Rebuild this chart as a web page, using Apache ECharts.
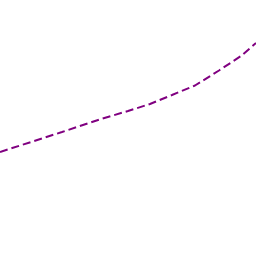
<!DOCTYPE html>
<html>
<head>
<meta charset="utf-8">
<script src="https://cdn.jsdelivr.net/npm/echarts@6/dist/echarts.min.js"></script>
<style>html,body{margin:0;padding:0;background:#fff}#c{width:256px;height:256px}</style>
</head>
<body>
<div id="c"></div>
<script>
var xValues = [0, 62, 101, 128, 150, 172, 195, 219, 241, 256];
var yValues = [104, 124, 137, 145, 152, 161, 170.5, 185.5, 200, 213];
var seriesData = xValues.map(function (x, i) { return [x, yValues[i]]; });
var chart = echarts.init(document.getElementById('c'), null, {renderer: 'canvas'});
chart.setOption({
  animation: false,
  backgroundColor: '#ffffff',
  grid: {left: 0, right: 0, top: 0, bottom: 0},
  xAxis: {type: 'value', min: 0, max: 256, show: false},
  yAxis: {type: 'value', min: 0, max: 256, show: false},
  series: [{
    type: 'line',
    data: seriesData,
    showSymbol: false,
    symbol: 'none',
    lineStyle: {color: '#800080', width: 2, type: 'dashed'}
  }]
});
</script>
</body>
</html>
